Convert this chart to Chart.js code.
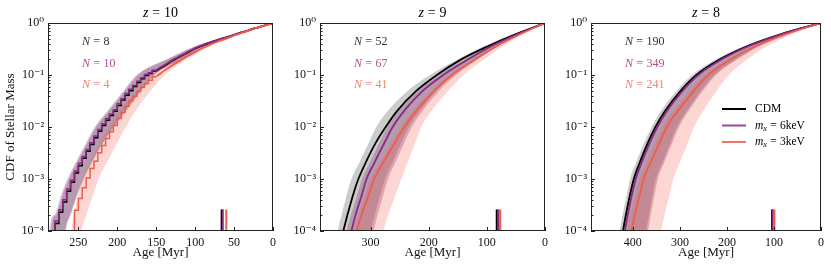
<!DOCTYPE html>
<html>
<head>
<meta charset="utf-8">
<script src="https://cdn.jsdelivr.net/npm/chart.js@4.4.1/dist/chart.umd.min.js"></script>
<style>
  body { margin: 0; background: #fff; }
  #wrap { position: relative; width: 831px; height: 269px; }
  #wrap canvas { position: absolute; top: 0; }
</style>
</head>
<body>
<div id="wrap">
  <canvas id="z10" width="281" height="269" style="left:0px"></canvas>
  <canvas id="z9" width="270" height="269" style="left:283px"></canvas>
  <canvas id="z8" width="276" height="269" style="left:555px"></canvas>
</div>
<script>
/* ---------- DATA ---------- */

const yTickValues = [1e-4, 1e-3, 1e-2, 1e-1, 1];
const yTickLabels = ['10⁻⁴', '10⁻³', '10⁻²', '10⁻¹', '10⁰'];
const xTicks10 = [250, 200, 150, 100, 50, 0];
const xTicks9 = [300, 200, 100, 0];
const xTicks8 = [400, 300, 200, 100, 0];

const counts10 = [8, 10, 4];
const counts9 = [52, 67, 41];
const counts8 = [190, 349, 241];

// z = 10: few galaxies, so the CDFs are steps -> sampled every 5 Myr
const ages10 = [0, 5, 10, 15, 20, 25, 30, 35, 40, 45, 50, 55, 60, 65, 70, 75, 80, 85, 90, 95,
  100, 105, 110, 115, 120, 125, 130, 135, 140, 145, 150, 155, 160, 165, 170, 175, 180, 185, 190, 195,
  200, 205, 210, 215, 220, 225, 230, 235, 240, 245, 250, 255, 260, 265, 270, 275, 280, 285, 290];
const cdm10 = [1, 0.955, 0.902, 0.861, 0.813, 0.776, 0.733, 0.692, 0.661, 0.624, 0.589, 0.556, 0.525, 0.501, 0.473, 0.447, 0.422, 0.398, 0.372, 0.347,
  0.324, 0.295, 0.269, 0.245, 0.224, 0.204, 0.186, 0.166, 0.148, 0.135, 0.120, 0.107, 0.098, 0.085, 0.072, 0.060, 0.050, 0.041, 0.033, 0.026,
  0.020, 0.0166, 0.0135, 0.0107, 0.0083, 0.0062, 0.0046, 0.0034, 0.0025, 0.0018, 0.0013, 8.7e-4, 5.8e-4, 3.6e-4, 2.3e-4, 1.4e-4, 8.3e-5, 4.5e-5, 2.5e-5];
const wdm6_10 = [1, 0.957, 0.905, 0.864, 0.817, 0.780, 0.737, 0.697, 0.665, 0.629, 0.594, 0.561, 0.530, 0.506, 0.478, 0.452, 0.427, 0.403, 0.377, 0.352,
  0.329, 0.300, 0.274, 0.250, 0.229, 0.209, 0.191, 0.171, 0.153, 0.139, 0.124, 0.111, 0.102, 0.089, 0.076, 0.063, 0.053, 0.044, 0.035, 0.028,
  0.0215, 0.0178, 0.0145, 0.0115, 0.0090, 0.0067, 0.0050, 0.0037, 0.0027, 0.0020, 0.00142, 9.5e-4, 6.4e-4, 4.0e-4, 2.55e-4, 1.56e-4, 9.3e-5, 5.1e-5, 2.8e-5];
const wdm3_10 = [1, 0.951, 0.902, 0.857, 0.813, 0.767, 0.724, 0.684, 0.646, 0.610, 0.575, 0.537, 0.501, 0.473, 0.447, 0.417, 0.389, 0.359, 0.331, 0.302,
  0.275, 0.251, 0.229, 0.207, 0.186, 0.168, 0.151, 0.135, 0.120, 0.106, 0.093, 0.079, 0.068, 0.058, 0.048, 0.039, 0.032, 0.025, 0.019, 0.0145,
  0.0107, 0.0081, 0.0060, 0.0044, 0.0032, 0.0022, 0.0016, 0.00105, 6.8e-4, 4.2e-4, 2.5e-4, 1e-6, null, null, null, null, null, null, null];
const stepFrom10 = 150;   // older than this the z = 10 curves are drawn as steps

// everything else: age [Myr] at which the CDF reaches each level
const levels = [1e-4, 2e-4, 5e-4, 1e-3, 2e-3, 5e-3, 1e-2, 2e-2, 5e-2, 0.1, 0.2, 0.35, 0.6, 1];

const cdmBandOld10 = [285, 279, 270, 262, 252, 238, 227, 211, 190, 173, 135, 100, 52, 0];
const cdmBandYoung10 = [267, 261, 252, 244, 234, 219, 205, 190, 170, 153, 117, 88, 44, 0];
const wdm6BandOld10 = [287, 281, 272, 264, 254, 240, 229, 213, 192, 175, 137, 102, 53, 0];
const wdm6BandYoung10 = [266, 260, 251, 243, 233, 218, 204, 189, 169, 152, 116, 87, 43, 0];
const wdm3BandOld10 = [259, 256, 250, 245, 236, 222, 211, 198, 175, 155, 123, 91, 48, 0];
const wdm3BandYoung10 = [246, 240, 231, 224, 214, 200, 189, 177, 157, 139, 110, 82, 43, 0];

const cdm9 = [347, 340, 330, 321, 309, 291, 274, 255, 221, 186, 144, 100, 52, 0];
const wdm6_9 = [333, 326, 315, 307, 294, 276, 262, 243, 210, 175, 132, 94, 49, 0];
const wdm3_9 = [324, 316, 303, 294, 279, 258, 242, 222, 190, 160, 120, 85, 44, 0];
const cdmBandOld9 = [356, 350, 341, 333, 320, 303, 290, 271, 236, 198, 150, 107, 56, 0];
const cdmBandYoung9 = [300, 293, 283, 275, 263, 247, 234, 216, 187, 158, 119, 85, 44, 0];
const wdm6BandOld9 = [341, 334, 323, 315, 302, 285, 271, 252, 218, 182, 138, 98, 51, 0];
const wdm6BandYoung9 = [295, 288, 278, 270, 258, 242, 229, 211, 182, 153, 115, 82, 42, 0];
const wdm3BandOld9 = [329, 321, 309, 300, 285, 264, 248, 228, 196, 165, 124, 88, 46, 0];
const wdm3BandYoung9 = [278, 270, 257, 247, 237, 223, 213, 196, 166, 140, 105, 74, 38, 0];

const cdm8 = [421, 415, 406, 398, 386, 368, 352, 332, 298, 265, 215, 160, 88, 0];
const wdm6_8 = [417, 411, 402, 394, 382, 364, 348, 328, 294, 261, 211, 157, 86, 0];
const wdm3_8 = [403, 396, 385, 377, 363, 343, 328, 305, 270, 240, 192, 142, 77, 0];
const cdmBandOld8 = [428, 422, 413, 406, 394, 376, 360, 341, 307, 274, 223, 166, 92, 0];
const cdmBandYoung8 = [372, 366, 358, 351, 338, 320, 306, 286, 255, 227, 181, 135, 73, 0];
const wdm6BandOld8 = [423, 417, 408, 400, 388, 370, 354, 334, 300, 267, 216, 161, 89, 0];
const wdm6BandYoung8 = [368, 362, 354, 347, 334, 316, 302, 282, 251, 223, 178, 133, 72, 0];
const wdm3BandOld8 = [412, 405, 394, 386, 372, 352, 337, 314, 279, 248, 198, 147, 80, 0];
const wdm3BandYoung8 = [340, 333, 322, 314, 301, 283, 270, 251, 222, 196, 157, 117, 63, 0];

// short ticks at the bottom (CDM, 6keV, 3keV)
const marks10 = [66, 64.5, 60];
const marks9 = [83, 80, 77];
const marks8 = [104, 102.5, 99];
const markTop = 2.6e-4;
const floorLevel = 1e-8;   // closes the shaded bands below the axis

/* ---------- STYLE ---------- */

const serif = "'Liberation Serif', 'DejaVu Serif', serif";
const lineCols = ['#000000', '#8c2981', '#ee5d4a'];
const bandCols = ['rgba(0,0,0,0.2)', 'rgba(125,35,110,0.3)', 'rgba(238,93,74,0.25)'];
const textCols = ['#333333', '#b04f95', '#f28471'];

function levelPoints(ages, xMax, closed) {
  var pts = [];
  if (closed) pts.push({ x: xMax, y: floorLevel });
  for (var i = 0; i < levels.length; i++) {
    pts.push({ x: ages[i], y: levels[i] });
  }
  return pts;
}

function agePoints(vals, lo, hi) {
  var pts = [];
  for (var i = 0; i < ages10.length; i++) {
    if (vals[i] !== null && ages10[i] >= lo && ages10[i] <= hi) pts.push({ x: ages10[i], y: vals[i] });
  }
  return pts;
}

// math-like text: parts are [text, italic, subscript]; '=' gets extra room like TeX
function mathParts(ctx, parts, size, draw, x, y) {
  var w = 0;
  parts.forEach(function (p) {
    var fs = p[2] ? size * 0.72 : size;
    ctx.font = (p[1] ? 'italic ' : '') + fs + 'px ' + serif;
    var txt = p[0];
    if (txt === '=') {
      w += size * 0.28;
      if (draw) ctx.fillText('=', x + w, y);
      w += ctx.measureText('=').width + size * 0.28;
    } else {
      if (draw) ctx.fillText(txt, x + w, y + (p[2] ? size * 0.25 : 0));
      w += ctx.measureText(txt).width;
    }
  });
  return w;
}

const decor = {
  id: 'decor',
  afterDatasetsDraw(chart, args, opts) {
    const ctx = chart.ctx;
    const a = chart.chartArea;
    const x = chart.scales.x, y = chart.scales.y;
    ctx.save();
    ctx.strokeStyle = '#222';
    ctx.lineWidth = 1;
    ctx.beginPath();
    for (var d = -4; d < 0; d++) {
      for (var m = 1; m < 10; m++) {
        var py = Math.round(y.getPixelForValue(m * Math.pow(10, d))) + 0.5;
        ctx.moveTo(a.left, py);
        ctx.lineTo(a.left + (m === 1 ? 4 : 2.5), py);
      }
    }
    x.ticks.forEach(function (t) {
      var px = Math.round(x.getPixelForValue(t.value)) + 0.5;
      ctx.moveTo(px, a.bottom);
      ctx.lineTo(px, a.bottom - 4);
    });
    ctx.stroke();
    ctx.strokeRect(a.left + 0.5, a.top + 0.5, a.right - a.left - 1, a.bottom - a.top - 1);

    // title
    ctx.fillStyle = '#000';
    ctx.textBaseline = 'middle';
    var tp = [['z', true], ['=', false], [String(opts.z), false]];
    var tw = mathParts(ctx, tp, 14, false);
    mathParts(ctx, tp, 14, true, (a.left + a.right) / 2 - tw / 2, 13);

    // N labels
    opts.counts.forEach(function (n, i) {
      ctx.fillStyle = textCols[i];
      mathParts(ctx, [['N', true], ['=', false], [String(n), false]], 12, true, a.left + 34, 42 + i * 21.5);
    });

    // legend
    if (opts.legend) {
      var names = [[['CDM', false]],
        [['m', true], ['x', true, true], ['=', false], ['6keV', false]],
        [['m', true], ['x', true, true], ['=', false], ['3keV', false]]];
      names.forEach(function (nm, i) {
        var ly = 109 + i * 16.5;
        ctx.strokeStyle = lineCols[i];
        ctx.globalAlpha = i === 0 ? 1 : 0.85;
        ctx.lineWidth = 2;
        ctx.beginPath();
        ctx.moveTo(a.right - 99, ly);
        ctx.lineTo(a.right - 75, ly);
        ctx.stroke();
        ctx.globalAlpha = 1;
        ctx.fillStyle = '#000';
        mathParts(ctx, nm, 11.5, true, a.right - 66, ly);
      });
    }
    ctx.restore();
  }
};

function buildPanel(id, cfg) {
  var ds = [];
  var bands = cfg.bands;
  // shaded bands (old edge fills to the young edge)
  for (var b = bands.length - 1; b >= 0; b--) {
    ds.push({ data: levelPoints(bands[b][0], cfg.xMax, true), fill: '+1', backgroundColor: bandCols[b],
      borderWidth: 0, pointRadius: 0, cubicInterpolationMode: 'monotone', order: 10 });
    ds.push({ data: levelPoints(bands[b][1], cfg.xMax, true), fill: false,
      borderWidth: 0, pointRadius: 0, cubicInterpolationMode: 'monotone', order: 10 });
  }
  // curves: CDM at the bottom, 3keV on top
  cfg.curves.forEach(function (parts, i) {
    parts.forEach(function (c) {
      ds.push({ data: c.pts, borderColor: lineCols[i], borderWidth: c.step ? 1.5 : 1.8, pointRadius: 0, fill: false,
        stepped: c.step ? 'before' : false, cubicInterpolationMode: 'monotone', order: 3 - i });
    });
  });
  // marks
  cfg.marks.forEach(function (mAge, i) {
    ds.push({ data: [{ x: mAge, y: 1e-4 }, { x: mAge, y: markTop }], borderColor: lineCols[i],
      borderWidth: 2, pointRadius: 0, fill: false, borderCapStyle: 'butt', order: 3 - i });
  });

  new Chart(id, {
    type: 'line',
    data: { datasets: ds },
    options: {
      responsive: false,
      animation: false,
      events: [],
      layout: { padding: { top: 23, right: cfg.padRight, left: 0, bottom: 0 } },
      plugins: {
        legend: { display: false },
        tooltip: { enabled: false },
        filler: { drawTime: 'beforeDatasetsDraw' },
        decor: { z: cfg.z, counts: cfg.counts, legend: cfg.legend }
      },
      scales: {
        x: {
          type: 'linear', reverse: true, min: 0, max: cfg.xMax,
          afterBuildTicks: function (s) { s.ticks = cfg.xTicks.map(function (v) { return { value: v }; }); },
          afterFit: function (s) { s.height = 38; },
          grid: { display: false, drawTicks: false },
          border: { display: false },
          ticks: { autoSkip: false, maxRotation: 0, padding: 5, color: '#111',
            font: { family: serif, size: 12 } },
          title: { display: true, text: 'Age [Myr]', color: '#111', padding: { top: 0, bottom: 9 },
            font: { family: serif, size: 13 } }
        },
        y: {
          type: 'logarithmic', min: 1e-4, max: 1,
          afterBuildTicks: function (s) { s.ticks = yTickValues.map(function (v) { return { value: v }; }); },
          afterFit: function (s) { s.width = cfg.yWidth; },
          grid: { display: false, drawTicks: false },
          border: { display: false },
          ticks: { autoSkip: false, padding: 4, color: '#111',
            callback: function (v) { return yTickLabels[yTickValues.indexOf(v)]; },
            font: { family: serif, size: 12 } },
          title: { display: cfg.yTitle, text: 'CDF of Stellar Mass', color: '#111', padding: { top: 3, bottom: 0 },
            font: { family: serif, size: 13 } }
        }
      }
    },
    plugins: [decor]
  });
}

function z10Curve(vals) {
  return [{ pts: agePoints(vals, 0, stepFrom10), step: false },
    { pts: agePoints(vals, stepFrom10, 1000), step: true }];
}

buildPanel('z10', {
  z: 10, counts: counts10, xMax: 289, xTicks: xTicks10, yWidth: 48, padRight: 4, yTitle: true, legend: false,
  curves: [z10Curve(cdm10), z10Curve(wdm6_10), z10Curve(wdm3_10)],
  bands: [[cdmBandOld10, cdmBandYoung10], [wdm6BandOld10, wdm6BandYoung10], [wdm3BandOld10, wdm3BandYoung10]],
  marks: marks10
});

buildPanel('z9', {
  z: 9, counts: counts9, xMax: 387, xTicks: xTicks9, yWidth: 37, padRight: 4, yTitle: false, legend: false,
  curves: [[{ pts: levelPoints(cdm9) }], [{ pts: levelPoints(wdm6_9) }], [{ pts: levelPoints(wdm3_9) }]],
  bands: [[cdmBandOld9, cdmBandYoung9], [wdm6BandOld9, wdm6BandYoung9], [wdm3BandOld9, wdm3BandYoung9]],
  marks: marks9
});

buildPanel('z8', {
  z: 8, counts: counts8, xMax: 489, xTicks: xTicks8, yWidth: 36, padRight: 10, yTitle: false, legend: true,
  curves: [[{ pts: levelPoints(cdm8) }], [{ pts: levelPoints(wdm6_8) }], [{ pts: levelPoints(wdm3_8) }]],
  bands: [[cdmBandOld8, cdmBandYoung8], [wdm6BandOld8, wdm6BandYoung8], [wdm3BandOld8, wdm3BandYoung8]],
  marks: marks8
});
</script>
</body>
</html>
